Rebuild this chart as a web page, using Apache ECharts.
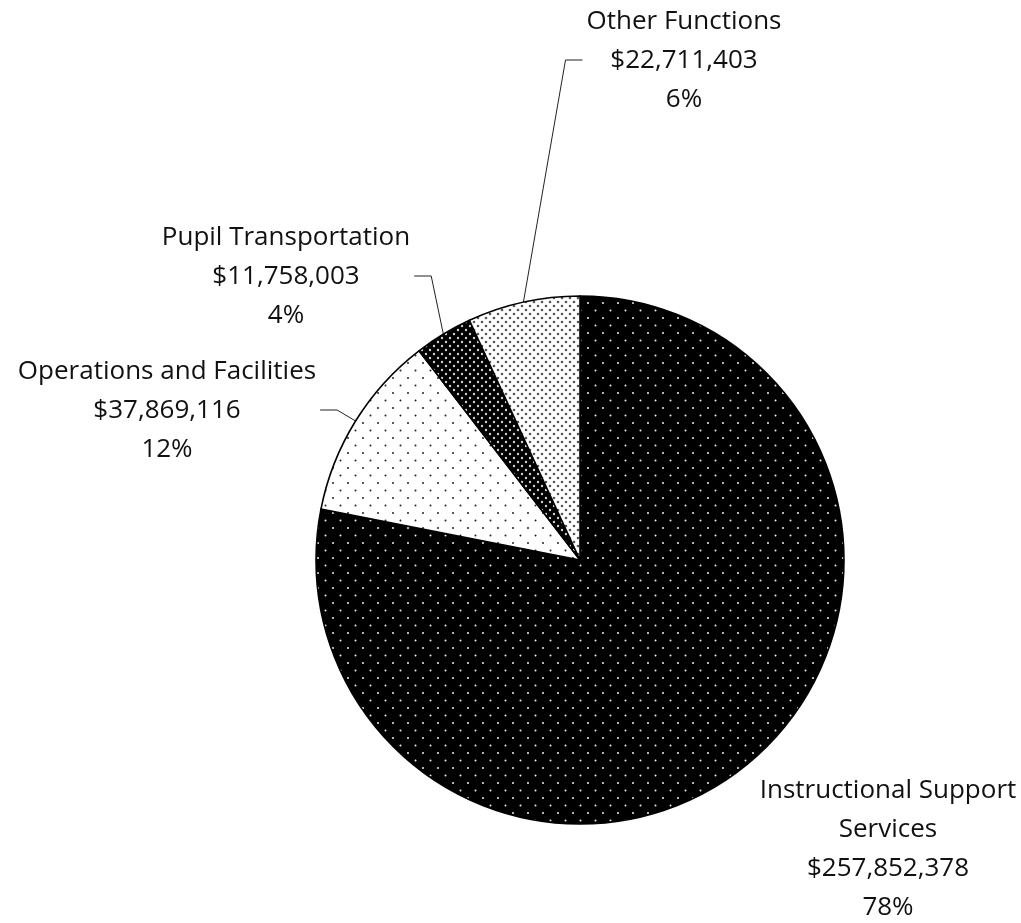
<!DOCTYPE html>
<html>
<head>
<meta charset="utf-8">
<script src="https://cdn.jsdelivr.net/npm/echarts@6/dist/echarts.min.js"></script>
<style>
  html, body { margin: 0; padding: 0; background: #fff; }
  #chart { width: 1021px; height: 923px; }
</style>
</head>
<body>
<div id="chart"></div>
<script>
// Expenditure by function
const categories = ['Instructional Support\nServices', 'Operations and Facilities', 'Pupil Transportation', 'Other Functions'];
const amounts = [257852378, 37869116, 11758003, 22711403];
const percentLabels = ['78%', '12%', '4%', '6%'];

// Label block centres and the side the leader line leaves from (0 = no line)
const labelPlacement = [
  { x: 888, y: 849, side: 0 },
  { x: 167, y: 411, side: 1 },
  { x: 286, y: 277, side: 1 },
  { x: 684, y: 61, side: -1 }
];

// Dotted fill tiles
function dotTile(size, bg, dot, r, pts) {
  const c = document.createElement('canvas');
  c.width = size; c.height = size;
  const g = c.getContext('2d');
  g.fillStyle = bg; g.fillRect(0, 0, size, size);
  g.fillStyle = dot;
  pts.forEach(function (p) {
    g.beginPath(); g.arc(p[0], p[1], r, 0, Math.PI * 2); g.fill();
  });
  return { image: c, repeat: 'repeat' };
}
const fills = [
  dotTile(15, '#000', '#f0f0f0', 1.0, [[3, 3], [10.5, 10.5]]),
  dotTile(15, '#fff', '#222', 1.0, [[3, 3], [10.5, 10.5]]),
  dotTile(8, '#000', '#d0d0d0', 1.2, [[2, 2], [6, 6]]),
  dotTile(8, '#fff', '#555', 1.3, [[2, 2], [6, 6]])
];

function money(v) {
  return '$' + v.toString().replace(/\B(?=(\d{3})+(?!\d))/g, ',');
}

const chart = echarts.init(document.getElementById('chart'), null, { renderer: 'canvas' });
chart.setOption({
  animation: false,
  backgroundColor: '#fff',
  series: [{
    type: 'pie',
    center: [580, 560],
    radius: 264,
    startAngle: 90,
    clockwise: true,
    avoidLabelOverlap: false,
    itemStyle: { borderColor: '#000', borderWidth: 1.6 },
    label: {
      show: true,
      position: 'outside',
      fontFamily: 'Open Sans',
      fontSize: 26,
      lineHeight: 39,
      color: '#111',
      align: 'center',
      formatter: function (p) {
        return p.name + '\n' + money(p.value) + '\n' + percentLabels[p.dataIndex];
      }
    },
    labelLine: { show: true, lineStyle: { color: '#222', width: 1 } },
    labelLayout: function (p) {
      const place = labelPlacement[p.dataIndex];
      const out = { x: place.x, y: place.y, align: 'center', verticalAlign: 'middle' };
      if (place.side !== 0 && p.labelLinePoints) {
        const w = p.labelRect.width;
        const edgeX = place.side > 0 ? place.x + w / 2 + 4 : place.x - w / 2 - 4;
        out.labelLinePoints = [
          p.labelLinePoints[0],
          [edgeX + place.side * 17, place.y - 1],
          [edgeX, place.y - 1]
        ];
      }
      return out;
    },
    emphasis: { disabled: true },
    data: categories.map(function (name, i) {
      return {
        name: name,
        value: amounts[i],
        itemStyle: { color: fills[i] },
        labelLine: { show: labelPlacement[i].side !== 0 }
      };
    })
  }]
});
</script>
</body>
</html>
